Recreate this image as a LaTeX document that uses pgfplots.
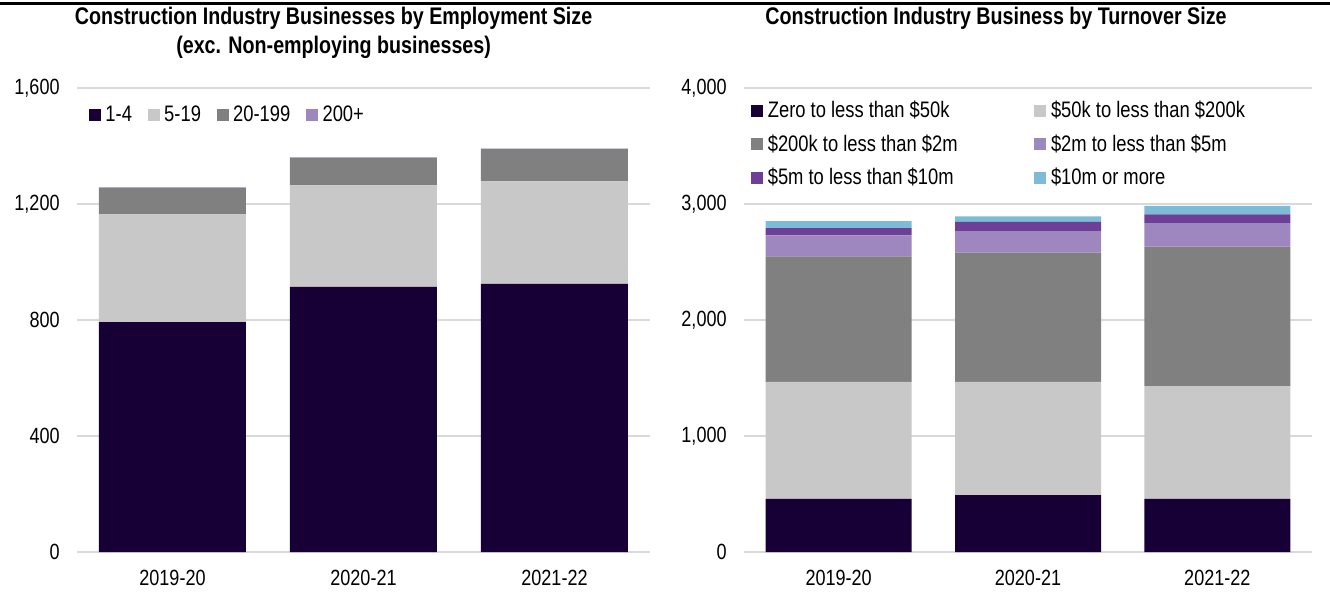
\documentclass[border=0pt]{standalone}
\usepackage{fontspec}
\setmainfont{Liberation Sans}[FakeStretch=0.82]
\usepackage{pgfplots}
\usepackage{pgfplotstable}
\pgfplotsset{compat=1.18}

\definecolor{cA}{HTML}{170036}
\definecolor{cB}{HTML}{C8C8C8}
\definecolor{cC}{HTML}{808080}
\definecolor{cD}{HTML}{9E86BE}
\definecolor{cE}{HTML}{6D3F97}
\definecolor{cF}{HTML}{7DBBD7}
\definecolor{gridc}{HTML}{D9D9D9}

% employment size (businesses)
\pgfplotstableread{
x a b c d
0 793 371 92 1
1 914 350 95 2
2 925 353 112 1
}\emp

% turnover size
\pgfplotstableread{
x a b c d e f
0 457 1009 1083 180 63 60
1 491 975 1114 187 78 49
2 457 974 1201 204 75 72
}\turn

\pgfplotsset{
  base/.style={
    scale only axis, height=232pt, anchor=south west,
    ybar stacked, ymin=0,
    xmin=-0.5, xmax=2.5,
    xtick={0,1,2}, xticklabels={2019-20,2020-21,2021-22},
    ymajorgrids, grid style={draw=gridc, line width=0.75pt},
    axis line style={draw=none}, major tick length=0pt,
    tick label style={font=\fontsize{11}{13}\selectfont},
    yticklabel style={inner sep=0pt, xshift=-8.5pt},
    xticklabel style={inner sep=0pt, yshift=-9pt},
    /pgf/number format/1000 sep={,},
    /pgf/number format/assume math mode=true,
    legend cell align=left,
    legend image code/.code={\fill[##1] (0pt,-3pt) rectangle (6pt,3pt);},
    legend style={draw=none, fill=none, inner sep=0pt,
      font=\fontsize{11.2}{13}\selectfont,
      nodes={inner sep=2.3pt}},
  },
}

\begin{document}
\begin{tikzpicture}
\useasboundingbox (0,0) rectangle (665pt,295.5pt);
\draw[line width=1.5pt] (0,294pt) -- (665pt,294pt);

\node[font=\fontsize{12}{14.5}\selectfont\bfseries, align=center] at (166.8pt,279.25pt)
  {Construction Industry Businesses by Employment Size\\(exc. Non-employing businesses)};
\node[font=\fontsize{12}{14.5}\selectfont\bfseries] at (498pt,286.5pt)
  {Construction Industry Business by Turnover Size};

\begin{axis}[base,
  at={(38.5pt,19.5pt)}, width=286.5pt,
  bar width=73.5pt, ymax=1600, ytick={0,400,...,1600},
  legend columns=4,
  legend style={at={(0.02,0.942)}, anchor=west,
    /tikz/every even column/.append style={column sep=5.5pt}},
]
\addplot[fill=cA, draw=none] table[x=x, y=a]{\emp};
\addplot[fill=cB, draw=none] table[x=x, y=b]{\emp};
\addplot[fill=cC, draw=none] table[x=x, y=c]{\emp};
\addplot[fill=cD, draw=none] table[x=x, y=d]{\emp};
\legend{1-4,5-19,20-199,200+}
\end{axis}

\begin{axis}[base,
  at={(372pt,19.5pt)}, width=284pt,
  bar width=73pt, ymax=4000, ytick={0,1000,...,4000},
  legend columns=2,
  legend style={at={(0.012,0.983)}, anchor=north west,
    /tikz/every even column/.append style={column sep=0pt},
    row sep=2.4pt},
]
\addplot[fill=cA, draw=none] table[x=x, y=a]{\turn};
\addplot[fill=cB, draw=none] table[x=x, y=b]{\turn};
\addplot[fill=cC, draw=none] table[x=x, y=c]{\turn};
\addplot[fill=cD, draw=none] table[x=x, y=d]{\turn};
\addplot[fill=cE, draw=none] table[x=x, y=e]{\turn};
\addplot[fill=cF, draw=none] table[x=x, y=f]{\turn};
\legend{\makebox[131pt][l]{Zero to less than \$50k},\$50k to less than \$200k,
  \makebox[131pt][l]{\$200k to less than \$2m},\$2m to less than \$5m,
  \makebox[131pt][l]{\$5m to less than \$10m},\$10m or more}
\end{axis}
\end{tikzpicture}
\end{document}
